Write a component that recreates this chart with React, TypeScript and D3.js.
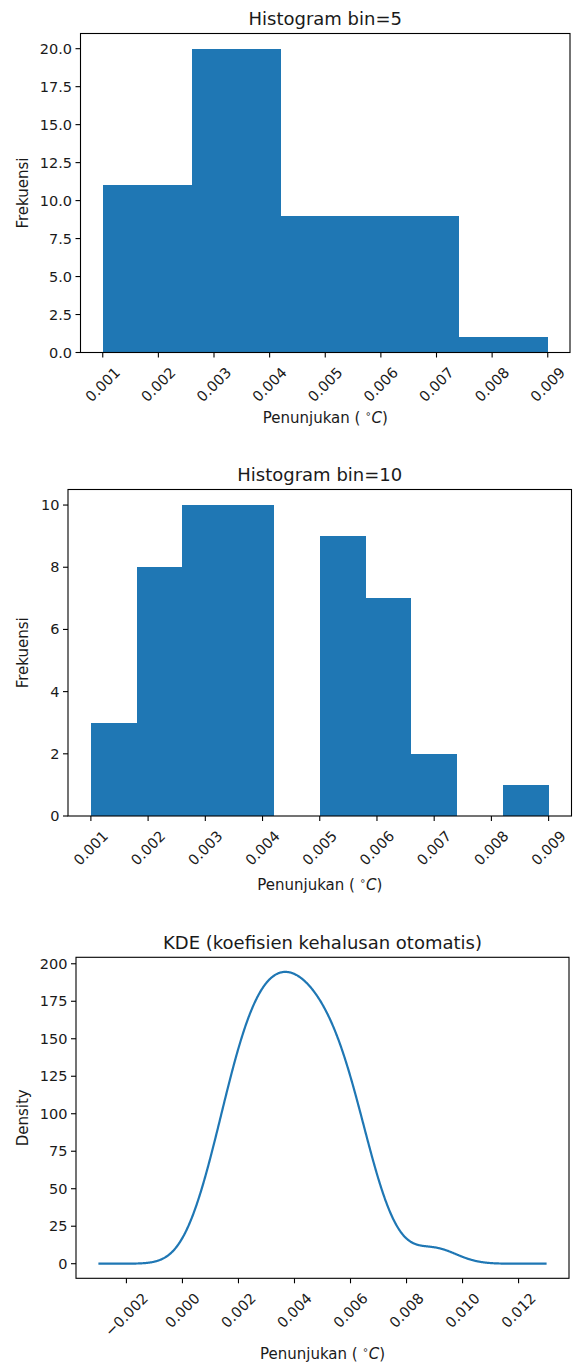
import React, { useEffect, useRef } from "react";
import * as d3 from "d3";

// Temperature readings (°C) and how many times each one was recorded
const readings = [0.001, 0.002, 0.003, 0.004, 0.005, 0.006, 0.007, 0.008, 0.009];
const readingCounts = [3, 8, 10, 10, 9, 7, 2, 0, 1];

// Bin counts used by the two histograms
const binSettings = [5, 10];
const chartTitles = ["Histogram bin=5", "Histogram bin=10", "KDE (koefisien kehalusan otomatis)"];
const yLabels = ["Frekuensi", "Frekuensi", "Density"];

// Tick values
const histXTicks = [0.001, 0.002, 0.003, 0.004, 0.005, 0.006, 0.007, 0.008, 0.009];
const hist5YTicks = [0, 2.5, 5, 7.5, 10, 12.5, 15, 17.5, 20];
const hist10YTicks = [0, 2, 4, 6, 8, 10];
const kdeXTicks = [-0.002, 0, 0.002, 0.004, 0.006, 0.008, 0.01, 0.012];
const kdeYTicks = [0, 25, 50, 75, 100, 125, 150, 175, 200];

const W = 574;
const H = 1363;
const FONT = "DejaVu Sans";
const TEXT = "#1a1a1a";
const BLUE = "#1f77b4";
const TICK_FS = 14.5;
const LABEL_FS = 15;
const TITLE_FS = 18;

// Panel frames (plot area rectangles) and text offsets
const panels = [
  { left: 80.5, right: 570, top: 33.5, bottom: 352.5, titleY: 25, xLabelY: 423, yFmt: ".1f", xFmt: ".3f" },
  { left: 68, right: 571.5, top: 489.5, bottom: 816, titleY: 480.5, xLabelY: 890, yFmt: "d", xFmt: ".3f" },
  { left: 76, right: 569, top: 957.3, bottom: 1278.3, titleY: 948.5, xLabelY: 1358.5, yFmt: "d", xFmt: ".3f" },
];

function sampleValues(): number[] {
  return readings.flatMap((v, i) => Array(readingCounts[i]).fill(v));
}

function padDomain(lo: number, hi: number, frac = 0.05): [number, number] {
  const s = hi - lo;
  return [lo - s * frac, hi + s * frac];
}

export default function App() {
  const ref = useRef<SVGSVGElement | null>(null);

  useEffect(() => {
    const svg = d3.select(ref.current);
    svg.selectAll("*").remove();

    const sample = sampleValues();
    const lo = d3.min(sample) as number;
    const hi = d3.max(sample) as number;

    const drawFrame = (g: any, p: any, x: any, y: any, xTicks: number[], yTicks: number[], idx: number) => {
      // y ticks and labels
      const yt = g.append("g");
      yTicks.forEach((t) => {
        const yy = y(t);
        yt.append("line")
          .attr("x1", p.left - 5).attr("x2", p.left)
          .attr("y1", yy).attr("y2", yy)
          .attr("stroke", "#000").attr("stroke-width", 1.1);
        yt.append("text")
          .attr("x", p.left - 8.5).attr("y", yy)
          .attr("text-anchor", "end")
          .attr("dominant-baseline", "central")
          .attr("font-family", FONT).attr("font-size", TICK_FS).attr("fill", TEXT)
          .text(d3.format(p.yFmt)(t));
      });

      // x ticks and rotated labels
      const xt = g.append("g");
      const asc = 0.928 * TICK_FS;
      const desc = 0.236 * TICK_FS;
      xTicks.forEach((t) => {
        const xx = x(t);
        xt.append("line")
          .attr("x1", xx).attr("x2", xx)
          .attr("y1", p.bottom).attr("y2", p.bottom + 5)
          .attr("stroke", "#000").attr("stroke-width", 1.1);
        const label = xt.append("text")
          .attr("text-anchor", "end")
          .attr("font-family", FONT).attr("font-size", TICK_FS).attr("fill", TEXT)
          .text(d3.format(p.xFmt)(t));
        const w = (label.node() as SVGTextElement).getComputedTextLength();
        const top = p.bottom + 11.5;
        const ex = xx + 0.3536 * (w + asc - desc);
        const ey = top + 0.7071 * asc;
        label.attr("x", ex).attr("y", ey).attr("transform", `rotate(-45,${ex},${ey})`);
      });

      // axes frame
      g.append("rect")
        .attr("x", p.left).attr("y", p.top)
        .attr("width", p.right - p.left).attr("height", p.bottom - p.top)
        .attr("fill", "none").attr("stroke", "#000").attr("stroke-width", 1.1);

      // title
      g.append("text")
        .attr("x", (p.left + p.right) / 2).attr("y", p.titleY)
        .attr("text-anchor", "middle")
        .attr("font-family", FONT).attr("font-size", TITLE_FS).attr("fill", TEXT)
        .text(chartTitles[idx]);

      // y label
      const ylx = 28;
      const yly = (p.top + p.bottom) / 2;
      g.append("text")
        .attr("x", ylx).attr("y", yly)
        .attr("transform", `rotate(-90,${ylx},${yly})`)
        .attr("text-anchor", "middle")
        .attr("font-family", FONT).attr("font-size", LABEL_FS).attr("fill", TEXT)
        .text(yLabels[idx]);

      // x label with degree superscript and italic C
      const xl = g.append("text")
        .attr("x", (p.left + p.right) / 2).attr("y", p.xLabelY)
        .attr("text-anchor", "middle")
        .attr("font-family", FONT).attr("font-size", LABEL_FS).attr("fill", TEXT);
      xl.append("tspan").text("Penunjukan ( ");
      xl.append("tspan").attr("font-size", 10).attr("dy", -6).text("\u2218");
      xl.append("tspan").attr("dy", 6).attr("font-style", "italic").text("C");
      xl.append("tspan").text(")");
    };

    // Histograms
    binSettings.forEach((nb, idx) => {
      const p = panels[idx];
      const g = svg.append("g");
      const edges = d3.range(nb + 1).map((i) => +(lo + (i * (hi - lo)) / nb).toFixed(10));
      const bins = d3.bin().domain([lo, hi]).thresholds(edges.slice(1, -1))(sample);
      const maxC = d3.max(bins, (b) => b.length) as number;
      const x = d3.scaleLinear().domain(padDomain(lo, hi)).range([p.left, p.right]);
      const y = d3.scaleLinear().domain([0, maxC * 1.05]).range([p.bottom, p.top]);
      g.append("g")
        .selectAll("rect")
        .data(bins)
        .join("rect")
        .attr("x", (b: any) => x(b.x0))
        .attr("width", (b: any) => Math.max(0, x(b.x1) - x(b.x0)))
        .attr("y", (b: any) => y(b.length))
        .attr("height", (b: any) => y(0) - y(b.length))
        .attr("fill", BLUE)
        .attr("shape-rendering", "crispEdges");
      drawFrame(g, p, x, y, histXTicks, idx === 0 ? hist5YTicks : hist10YTicks, idx);
    });

    // Gaussian KDE with Scott's bandwidth
    {
      const p = panels[2];
      const g = svg.append("g");
      const n = sample.length;
      const bw = (d3.deviation(sample) as number) * Math.pow(n, -0.2);
      const span = hi - lo;
      const gLo = lo - span / 2;
      const gHi = hi + span / 2;
      const grid = d3.range(1000).map((i) => gLo + (i * (gHi - gLo)) / 999);
      const norm = n * bw * Math.sqrt(2 * Math.PI);
      const dens = grid.map((gx) => ({
        x: gx,
        y: d3.sum(sample, (v) => Math.exp(-0.5 * ((gx - v) / bw) ** 2)) / norm,
      }));
      const x = d3.scaleLinear().domain(padDomain(gLo, gHi)).range([p.left, p.right]);
      const y = d3
        .scaleLinear()
        .domain(padDomain(d3.min(dens, (d) => d.y) as number, d3.max(dens, (d) => d.y) as number))
        .range([p.bottom, p.top]);
      const line = d3.line<any>().x((d) => x(d.x)).y((d) => y(d.y));
      g.append("path")
        .attr("d", line(dens))
        .attr("fill", "none")
        .attr("stroke", BLUE)
        .attr("stroke-width", 2.2);
      drawFrame(g, p, x, y, kdeXTicks, kdeYTicks, 2);
    }
  }, []);

  return (
    <div style={{ position: "absolute", left: 0, top: 0 }}>
      <svg ref={ref} width={W} height={H} style={{ display: "block", background: "#fff" }} />
    </div>
  );
}
